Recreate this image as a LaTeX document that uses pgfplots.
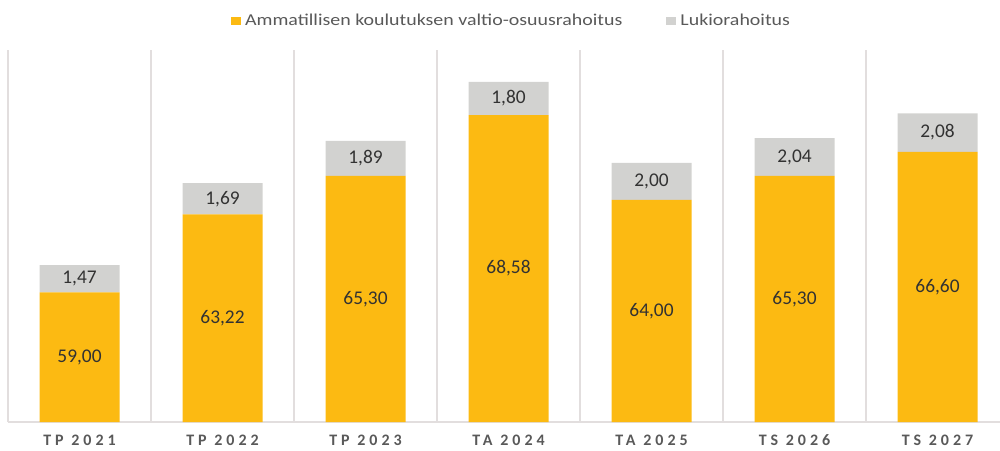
\documentclass[border=0pt]{standalone}
\usepackage{fontspec}
\setmainfont{Carlito}
\newfontfamily\tickfont[LetterSpace=25]{Carlito}
\newfontfamily\legfont[FakeStretch=1.2]{Carlito}
\usepackage{pgfplots}
\pgfplotsset{compat=1.18}
\definecolor{gold}{RGB}{252,186,18}
\definecolor{lgray}{RGB}{210,210,208}
\definecolor{sepgray}{RGB}{226,222,222}
\definecolor{txtgray}{RGB}{89,89,89}
\definecolor{valtxt}{RGB}{50,50,50}

\pgfplotsset{
    base/.style={
        width=496pt, height=186pt, scale only axis,
        xmin=-0.5, xmax=6.437,
        ymin=52, ymax=72.1,
    },
}

\begin{document}
\begin{tikzpicture}
\begin{axis}[
    base,
    ybar stacked, bar width=40pt,
    xtick={0,1,2,3,4,5,6},
    xticklabels={TP 2021,TP 2022,TP 2023,TA 2024,TA 2025,TS 2026,TS 2027},
    x tick label style={font=\tickfont\bfseries\fontsize{8}{9}\selectfont, text=txtgray, anchor=center, yshift=-9pt},
    minor xtick={-0.5,0.5,1.5,2.5,3.5,4.5,5.5},
    xminorgrids,
    minor grid style={sepgray, line width=0.8pt},
    major tick length=0pt, minor tick length=0pt,
    ytick=\empty,
    axis line style={draw=none},
    legend style={at={(0.5086,1.078)}, anchor=center, draw=none, fill=none,
        legend columns=2, font=\legfont\fontsize{8.3}{10}\selectfont, text=txtgray,
        /tikz/every even column/.append style={column sep=20pt}},
    legend cell align=left,
]

% valtionosuus
\addplot[fill=gold, draw=none,
    legend image code/.code={\fill[gold] (0pt,-2pt) rectangle (5pt,2pt);}]
coordinates {(0,59.00) (1,63.22) (2,65.30) (3,68.58) (4,64.00) (5,65.30) (6,66.60)};
\addlegendentry{Ammatillisen koulutuksen valtio-osuusrahoitus}

% lukio
\addplot[fill=lgray, draw=none,
    legend image code/.code={\fill[lgray] (0pt,-2pt) rectangle (5pt,2pt);}]
coordinates {(0,1.47) (1,1.69) (2,1.89) (3,1.80) (4,2.00) (5,2.04) (6,2.08)};
\addlegendentry{Lukiorahoitus}

\draw[sepgray, line width=0.8pt] (rel axis cs:0,0) -- (rel axis cs:1,0);
\end{axis}

% arvot segmenttien keskelle
\begin{axis}[
    base, hide axis,
    nodes near coords, point meta=explicit symbolic,
    nodes near coords style={anchor=center, font=\fontsize{9.7}{11}\selectfont, text=valtxt},
]
\addplot[only marks, mark=none] coordinates {
    (0,55.5)[59,00] (1,57.61)[63,22] (2,58.65)[65,30] (3,60.29)[68,58]
    (4,58.0)[64,00] (5,58.65)[65,30] (6,59.3)[66,60]
};
\addplot[only marks, mark=none] coordinates {
    (0,59.735)[1,47] (1,64.065)[1,69] (2,66.245)[1,89] (3,69.48)[1,80]
    (4,65.0)[2,00] (5,66.32)[2,04] (6,67.64)[2,08]
};
\end{axis}
\pgfresetboundingbox
\path (-4pt,-14pt) rectangle (496pt,211pt);
\end{tikzpicture}
\end{document}
